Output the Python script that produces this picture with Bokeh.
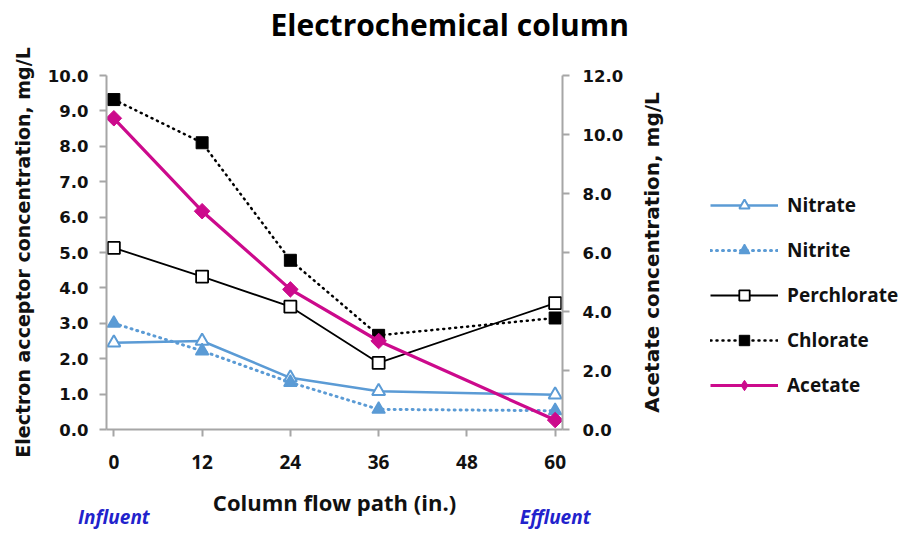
import math
from bokeh.plotting import figure
from bokeh.layouts import row
from bokeh.models import (Range1d, LinearAxis, FixedTicker, PrintfTickFormatter,
                          Legend, LegendItem)
from bokeh.embed import file_html
from bokeh.resources import INLINE

# ---------------- data ----------------
positions = [0, 12, 24, 36, 60]          # column flow path (in.)
x_ticks = [0, 12, 24, 36, 48, 60]
left_ticks = [0, 1, 2, 3, 4, 5, 6, 7, 8, 9, 10]
right_ticks = [0, 2, 4, 6, 8, 10, 12]

nitrate = [2.45, 2.50, 1.46, 1.08, 0.98]
nitrite = [3.00, 2.22, 1.33, 0.57, 0.53]
perchlorate = [5.13, 4.32, 3.47, 1.88, 3.57]
chlorate = [9.32, 8.10, 4.78, 2.66, 3.15]
acetate = [10.55, 7.40, 4.75, 3.00, 0.32]   # right axis

series_names = ["Nitrate", "Nitrite", "Perchlorate", "Chlorate", "Acetate"]
title_text = "Electrochemical column"
x_label = "Column flow path (in.)"
left_label = "Electron acceptor concentration, mg/L"
right_label = "Acetate concentration, mg/L"
end_labels = ["Influent", "Effluent"]

BLUE = "#5B9BD5"
MAGENTA = "#CC0A8C"
AXIS_GREY = "#A6A6A6"
TXT = "#111111"

H = 532
W_LEFT = 44
W_MAIN = 586
W_SIDE = 273
B_TOP = 75
B_BOTTOM = 100


def bare_label_figure(width, border_left):
    f = figure(width=width, height=H, output_backend="svg", toolbar_location=None,
               x_range=Range1d(1000, 1001), y_range=Range1d(1000, 1001),
               x_axis_location=None, y_axis_location="left",
               min_border_left=border_left, min_border_right=0,
               min_border_top=B_TOP, min_border_bottom=B_BOTTOM,
               background_fill_color="white", border_fill_color="white")
    f.outline_line_color = None
    f.xgrid.visible = False
    f.ygrid.visible = False
    ax = f.left[0]
    ax.ticker = FixedTicker(ticks=[])
    ax.axis_line_color = None
    ax.major_tick_line_color = None
    ax.minor_tick_line_color = None
    ax.major_tick_out = 0
    ax.major_tick_in = 0
    ax.major_label_standoff = 0
    ax.axis_label_text_font = "DejaVu Sans"
    ax.axis_label_text_font_style = "bold"
    ax.axis_label_text_color = TXT
    return f, ax


# ---------------- left title panel ----------------
lf, la = bare_label_figure(W_LEFT, 40)
la.axis_label = left_label
la.axis_label_text_font_size = "19px"
la.axis_label_standoff = 7

# ---------------- main plot ----------------
p = figure(width=W_MAIN, height=H, output_backend="svg", toolbar_location=None,
           x_range=Range1d(-1, 61), y_range=Range1d(0, 10),
           min_border_left=62, min_border_right=68, min_border_top=B_TOP,
           min_border_bottom=B_BOTTOM, background_fill_color="white",
           border_fill_color="white")
p.extra_y_ranges = {"acetate": Range1d(0, 12)}
p.outline_line_color = None
p.xgrid.visible = False
p.ygrid.visible = False

xa = p.below[0]
ya = p.left[0]

p.title.text = title_text
p.title.align = "left"
p.title.offset = 164
p.title.vertical_align = "top"
p.title.standoff = 0
p.title.text_font = "Open Sans"
p.title.text_font_size = "30px"
p.title.text_font_style = "bold"
p.title.text_color = "black"


def style_axis(ax, tick_font, tick_size):
    ax.axis_line_color = AXIS_GREY
    ax.axis_line_width = 2
    ax.major_tick_line_color = AXIS_GREY
    ax.major_tick_line_width = 2
    ax.major_tick_out = 7
    ax.major_tick_in = 0
    ax.minor_tick_line_color = None
    ax.major_label_text_font = tick_font
    ax.major_label_text_font_size = tick_size
    ax.major_label_text_font_style = "bold"
    ax.major_label_text_color = TXT


# x axis
xa.ticker = FixedTicker(ticks=x_ticks)
style_axis(xa, "Open Sans", "19px")
xa.major_label_standoff = 18
xa.axis_label = x_label
xa.axis_label_text_font = "Open Sans"
xa.axis_label_text_font_size = "22px"
xa.axis_label_text_font_style = "bold"
xa.axis_label_text_color = TXT
xa.axis_label_standoff = 15

# Influent / Effluent under the x axis
ia = LinearAxis(ticker=FixedTicker(ticks=[positions[0], positions[-1]]),
                major_label_overrides={positions[0]: end_labels[0],
                                       positions[-1]: end_labels[1]})
ia.axis_line_color = None
ia.major_tick_line_color = None
ia.minor_tick_line_color = None
ia.major_tick_out = 0
ia.major_tick_in = 0
ia.major_label_standoff = -16
ia.major_label_text_font = "Open Sans"
ia.major_label_text_font_size = "19px"
ia.major_label_text_font_style = "bold italic"
ia.major_label_text_color = "#2222CC"
p.add_layout(ia, "below")

# invisible spacer between frame and title (lifts the title)
spacer = LinearAxis(ticker=FixedTicker(ticks=[x_ticks[0]]),
                    major_label_overrides={x_ticks[0]: ""})
spacer.axis_line_color = None
spacer.major_tick_line_color = "white"
spacer.minor_tick_line_color = None
spacer.major_tick_in = 0
spacer.major_tick_out = 29
spacer.major_label_standoff = 0
spacer.major_label_text_font_size = "1px"
p.add_layout(spacer, "above")

# left axis (ticks only; its title sits in the left panel)
ya.ticker = FixedTicker(ticks=left_ticks)
ya.formatter = PrintfTickFormatter(format="%.1f")
style_axis(ya, "DejaVu Sans", "16.5px")
ya.major_label_standoff = 11

# right axis (ticks only; its title sits in the side panel)
ra = LinearAxis(y_range_name="acetate", ticker=FixedTicker(ticks=right_ticks),
                formatter=PrintfTickFormatter(format="%.1f"))
style_axis(ra, "DejaVu Sans", "16.5px")
ra.major_label_standoff = 13
p.add_layout(ra, "right")

# ---------------- series ----------------
styles = [
    dict(line=dict(line_color=BLUE, line_width=2.5),
         mark=dict(marker="triangle", size=13, line_color=BLUE, line_width=2,
                   fill_color="white")),
    dict(line=dict(line_color=BLUE, line_width=3, line_dash="1 5", line_cap="round"),
         mark=dict(marker="triangle", size=13, line_color=BLUE, line_width=1.5,
                   fill_color=BLUE)),
    dict(line=dict(line_color="black", line_width=1.8),
         mark=dict(marker="square", size=12, line_color="black", line_width=1.8,
                   fill_color="white")),
    dict(line=dict(line_color="black", line_width=2.5, line_dash="1 5",
                   line_cap="round"),
         mark=dict(marker="square", size=12, line_color="black", fill_color="black")),
    dict(line=dict(line_color=MAGENTA, line_width=3.2),
         mark=dict(marker="square", angle=math.pi / 4, size=11, line_color=MAGENTA,
                   fill_color=MAGENTA)),
]
legend_marks = [st["mark"] for st in styles[:-1]] + [
    dict(marker="diamond", size=17, line_color=MAGENTA, fill_color=MAGENTA)]
values = [nitrate, nitrite, perchlorate, chlorate, acetate]

for name, vals, st in zip(series_names, values, styles):
    kw = {"y_range_name": "acetate"} if name == "Acetate" else {}
    p.line(positions, vals, **st["line"], **kw)
    p.scatter(positions, vals, **st["mark"], **kw)

# ---------------- side panel: right-axis title + legend ----------------
# (its ranges are far from the data, so the series only feed the legend swatches)
side, sa = bare_label_figure(W_SIDE, 40)
sa.axis_label = right_label
sa.axis_label_text_font_size = "20px"
sa.axis_label_standoff = 7

items = []
for name, vals, st, mk in zip(series_names, values, styles, legend_marks):
    lr = side.line(positions, vals, **st["line"])
    mr = side.scatter(positions, vals, **mk)
    items.append(LegendItem(label=name, renderers=[lr, mr]))

legend = Legend(items=items, location=(40, 31), orientation="vertical",
                glyph_width=68, glyph_height=26, label_height=26, spacing=19,
                label_standoff=9, padding=0, margin=0,
                border_line_color=None, background_fill_alpha=0,
                label_text_font="Open Sans", label_text_font_size="19px",
                label_text_font_style="bold", label_text_color=TXT)
side.add_layout(legend)

layout = row(lf, p, side, spacing=0)
open("out.html", "w").write(file_html(layout, INLINE))
